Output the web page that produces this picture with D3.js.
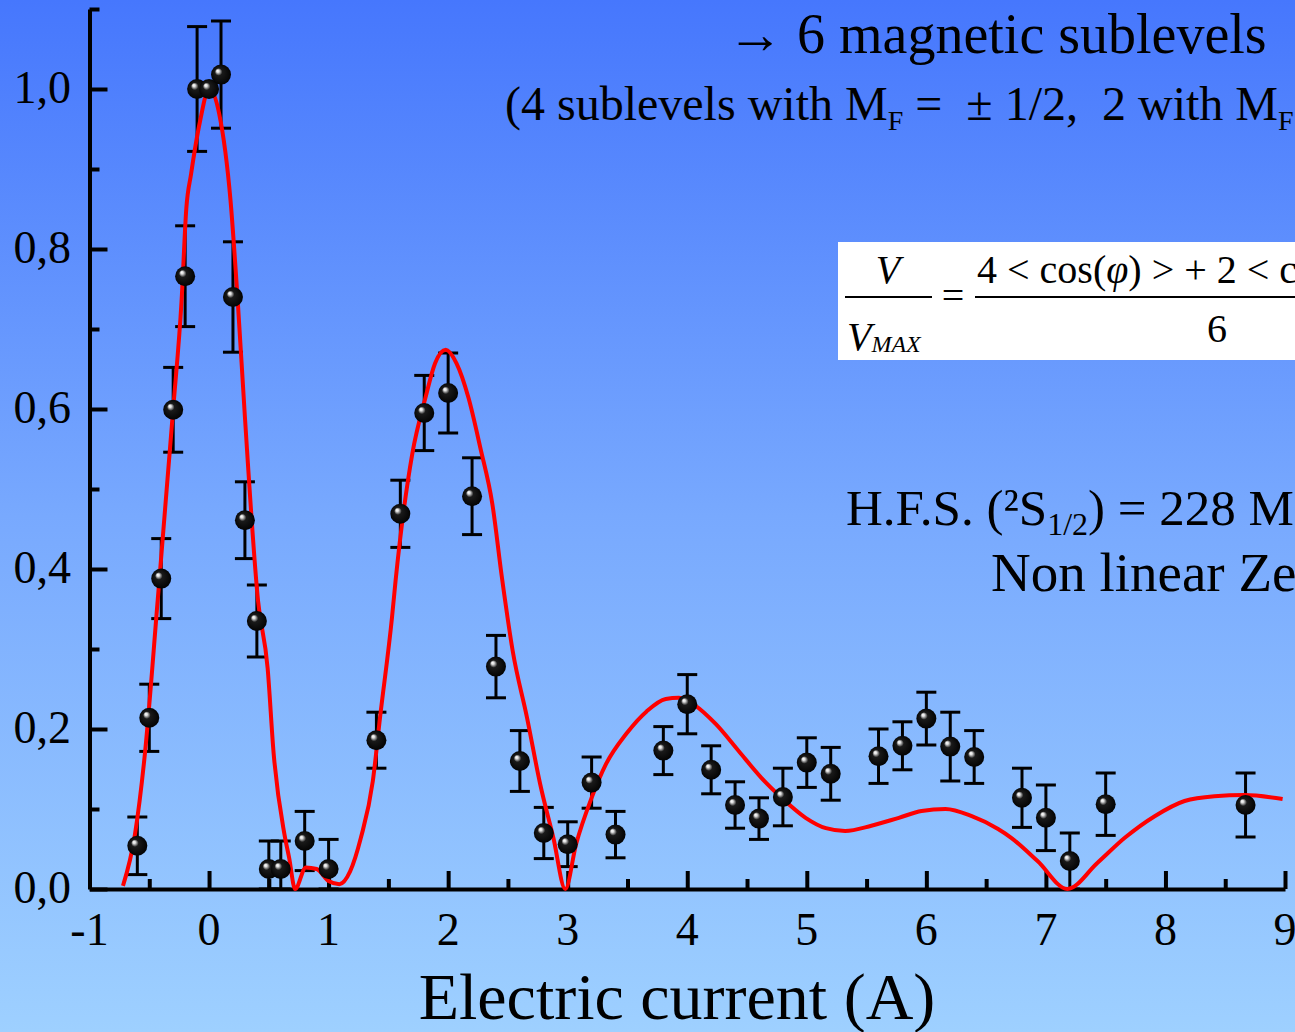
<!DOCTYPE html>
<html>
<head>
<meta charset="utf-8">
<script src="https://cdn.jsdelivr.net/npm/d3@7"></script>
<style>
  body { margin: 0; }
  svg { display: block; font-family: "Liberation Serif", "Times New Roman", serif; }
  text { white-space: pre; }
</style>
</head>
<body>
<svg id="chart" width="1295" height="1032"></svg>
<script>
// measured points (electric current, normalised visibility, error)
var current = [-0.6, -0.5, -0.4, -0.3, -0.2, -0.1, 0.0, 0.1, 0.2, 0.3, 0.4, 0.5, 0.6, 0.8, 1.0,
    1.4, 1.6, 1.8, 2.0, 2.2, 2.4, 2.6, 2.8, 3.0, 3.2, 3.4, 3.8, 4.0, 4.2, 4.4, 4.6, 4.8, 5.0, 5.2,
    5.6, 5.8, 6.0, 6.2, 6.4, 6.8, 7.0, 7.2, 7.5, 8.67];
var visibility = [0.054, 0.214, 0.388, 0.599, 0.766, 1.0, 1.0, 1.018, 0.74, 0.461, 0.335, 0.025, 0.025, 0.06, 0.025,
    0.186, 0.469, 0.595, 0.62, 0.491, 0.278, 0.16, 0.07, 0.056, 0.133, 0.068, 0.173, 0.231, 0.149, 0.105, 0.088, 0.115, 0.158, 0.144,
    0.166, 0.179, 0.213, 0.178, 0.165, 0.114, 0.089, 0.035, 0.106, 0.105];
var errors = [0.036, 0.042, 0.05, 0.053, 0.063, 0.078, 0, 0.067, 0.069, 0.048, 0.045, 0.035, 0.035, 0.037, 0.037,
    0.035, 0.042, 0.047, 0.05, 0.048, 0.039, 0.038, 0.032, 0.028, 0.032, 0.029, 0.03, 0.037, 0.03, 0.029, 0.026, 0.036, 0.031, 0.033,
    0.034, 0.03, 0.033, 0.043, 0.033, 0.037, 0.041, 0.035, 0.039, 0.04];

// theoretical curve
var fitX = [-0.72, -0.62, -0.54, -0.43, -0.3, -0.23, -0.19, -0.15, -0.075, 0, 0.085, 0.18, 0.24, 0.3, 0.41, 0.49, 0.54,
    0.63, 0.67, 0.72, 0.81, 0.9, 1.0, 1.09, 1.18, 1.27, 1.37, 1.43, 1.53, 1.56, 1.7, 1.81, 1.89, 1.98, 2.07, 2.17,
    2.27, 2.37, 2.45, 2.54, 2.66, 2.77, 2.88, 2.98, 3.07, 3.2, 3.32, 3.49, 3.66, 3.82, 3.93, 4.07, 4.24, 4.43, 4.62,
    4.79, 4.99, 5.16, 5.32, 5.54, 5.77, 5.96, 6.16, 6.38, 6.6, 6.71, 6.93, 7.18, 7.43, 7.66, 7.91, 8.16, 8.41, 8.66, 8.98];
var fitY = [0.004, 0.068, 0.164, 0.36, 0.6, 0.735, 0.851, 0.894, 0.96, 1.0, 0.969, 0.86, 0.735, 0.59, 0.36, 0.276, 0.17,
    0.069, 0.039, 0.0, 0.027, 0.025, 0.01, 0.006, 0.022, 0.064, 0.135, 0.214, 0.339, 0.385, 0.544, 0.614, 0.657, 0.674, 0.657, 0.614,
    0.551, 0.481, 0.389, 0.2975, 0.214, 0.131, 0.064, 0.0, 0.056, 0.114, 0.156, 0.194, 0.222, 0.2375, 0.239, 0.229, 0.206, 0.1725, 0.139,
    0.114, 0.089, 0.076, 0.0725, 0.079, 0.089, 0.0975, 0.1, 0.091, 0.075, 0.064, 0.035, 0.0, 0.0325, 0.064, 0.091, 0.11, 0.116, 0.1175, 0.1125];

var xMajor = [-1, 0, 1, 2, 3, 4, 5, 6, 7, 8, 9];
var xMinor = [-0.5, 0.5, 1.5, 2.5, 3.5, 4.5, 5.5, 6.5, 7.5, 8.5];
var yMajor = [0, 0.2, 0.4, 0.6, 0.8, 1.0];
var yMinor = [0.1, 0.3, 0.5, 0.7, 0.9, 1.1];

var svg = d3.select("#chart");

var x = d3.scaleLinear().domain([-1, 9]).range([89.5, 1285]);
var y = d3.scaleLinear().domain([0, 1.1]).range([889, 9]);

// background gradient
var defs = svg.append("defs");
var bg = defs.append("linearGradient").attr("id", "bg")
    .attr("x1", 0).attr("y1", 0).attr("x2", 0).attr("y2", 1);
bg.append("stop").attr("offset", "0%").attr("stop-color", "#4677fd");
bg.append("stop").attr("offset", "50%").attr("stop-color", "#78a9fe");
bg.append("stop").attr("offset", "100%").attr("stop-color", "#9ed0ff");

var ball = defs.append("radialGradient").attr("id", "ball")
    .attr("cx", "50%").attr("cy", "50%").attr("r", "55%")
    .attr("fx", "32%").attr("fy", "30%");
ball.append("stop").attr("offset", "0%").attr("stop-color", "#ffffff");
ball.append("stop").attr("offset", "12%").attr("stop-color", "#e0e0e0");
ball.append("stop").attr("offset", "34%").attr("stop-color", "#1a1a1a");
ball.append("stop").attr("offset", "100%").attr("stop-color", "#000000");

svg.append("rect").attr("width", 1295).attr("height", 1032).attr("fill", "url(#bg)");

// axes
var fmt = function (d) { return d3.format(".1f")(d).replace(".", ","); };

svg.append("g")
    .attr("transform", "translate(" + x(-1) + ",0)")
    .call(d3.axisLeft(y).tickValues(yMajor).tickSize(-18).tickSizeOuter(0).tickFormat(""))
    .call(function (g) { g.selectAll("path, line").attr("stroke", "#000").attr("stroke-width", 4); });
svg.append("g")
    .attr("transform", "translate(" + x(-1) + ",0)")
    .call(d3.axisLeft(y).tickValues(yMinor).tickSize(-10).tickSizeOuter(0).tickFormat(""))
    .call(function (g) {
        g.select(".domain").remove();
        g.selectAll("line").attr("stroke", "#000").attr("stroke-width", 4);
    });

svg.append("g")
    .attr("transform", "translate(0," + y(0) + ")")
    .call(d3.axisBottom(x).tickValues(xMajor).tickSize(-18).tickSizeOuter(0).tickFormat(""))
    .call(function (g) { g.selectAll("path, line").attr("stroke", "#000").attr("stroke-width", 4); });
svg.append("g")
    .attr("transform", "translate(0," + y(0) + ")")
    .call(d3.axisBottom(x).tickValues(xMinor).tickSize(-10).tickSizeOuter(0).tickFormat(""))
    .call(function (g) {
        g.select(".domain").remove();
        g.selectAll("line").attr("stroke", "#000").attr("stroke-width", 4);
    });

svg.append("g").selectAll("text")
    .data(yMajor)
    .enter()
    .append("text")
    .attr("x", 71)
    .attr("y", function (d) { return y(d) + 14; })
    .attr("text-anchor", "end")
    .style("font-size", "46px")
    .text(fmt);

svg.append("g").selectAll("text")
    .data(xMajor)
    .enter()
    .append("text")
    .attr("x", function (d) { return x(d); })
    .attr("y", 945)
    .attr("text-anchor", "middle")
    .style("font-size", "46px")
    .text(function (d) { return d; });

svg.append("text")
    .attr("x", 677).attr("y", 1019)
    .attr("text-anchor", "middle")
    .style("font-size", "66px")
    .text("Electric current (A)");

// error bars
var eb = svg.append("g").attr("stroke", "#000").attr("stroke-width", 3);
current.forEach(function (c, i) {
    if (!errors[i]) return;
    var cx = x(c), top = y(visibility[i] + errors[i]), bot = y(Math.max(visibility[i] - errors[i], 0));
    eb.append("line").attr("x1", cx).attr("x2", cx).attr("y1", top).attr("y2", bot);
    eb.append("line").attr("x1", cx - 10).attr("x2", cx + 10).attr("y1", top).attr("y2", top);
    eb.append("line").attr("x1", cx - 10).attr("x2", cx + 10).attr("y1", bot).attr("y2", bot);
});

// fit curve
var line = d3.line()
    .x(function (d) { return x(d[0]); })
    .y(function (d) { return y(d[1]); })
    .curve(d3.curveMonotoneX);
svg.append("path")
    .datum(d3.zip(fitX, fitY))
    .attr("d", line)
    .attr("fill", "none")
    .attr("stroke", "#ff0000")
    .attr("stroke-width", 4);

// points
svg.append("g").selectAll("circle")
    .data(d3.range(current.length))
    .enter()
    .append("circle")
    .attr("cx", function (i) { return x(current[i]); })
    .attr("cy", function (i) { return y(visibility[i]); })
    .attr("r", 10)
    .attr("fill", "url(#ball)");

// annotations
svg.append("text")
    .attr("x", 727).attr("y", 53)
    .style("font-size", "56px")
    .text("\u2192 6 magnetic sublevels");

var t2 = svg.append("text")
    .attr("x", 505).attr("y", 120)
    .style("font-size", "48px");
t2.append("tspan").text("(4 sublevels with M");
t2.append("tspan").attr("dy", 10).style("font-size", "28px").text("F");
t2.append("tspan").attr("dy", -10).text(" =  \u00b1 1/2,  2 with M");
t2.append("tspan").attr("dy", 10).style("font-size", "28px").text("F");
t2.append("tspan").attr("dy", -10).text(" = 0)");

// formula box
svg.append("rect")
    .attr("x", 838).attr("y", 242)
    .attr("width", 470).attr("height", 118)
    .attr("fill", "#fff");
var fm = svg.append("g").style("font-size", "40px");
fm.append("text").attr("x", 888).attr("y", 283).attr("text-anchor", "middle")
    .style("font-style", "italic").text("V");
fm.append("line").attr("x1", 845).attr("x2", 932).attr("y1", 297).attr("y2", 297)
    .attr("stroke", "#000").attr("stroke-width", 2);
var vm = fm.append("text").attr("x", 847).attr("y", 350).style("font-style", "italic");
vm.append("tspan").text("V");
vm.append("tspan").attr("dy", 2).style("font-size", "24px").text("MAX");
fm.append("text").attr("x", 953).attr("y", 309).attr("text-anchor", "middle").text("=");
fm.append("line").attr("x1", 975).attr("x2", 1300).attr("y1", 297).attr("y2", 297)
    .attr("stroke", "#000").attr("stroke-width", 2);
var num = fm.append("text").attr("x", 977).attr("y", 283);
num.append("tspan").text("4 < cos(");
num.append("tspan").style("font-style", "italic").text("\u03c6");
num.append("tspan").text(") > + 2 < cos(");
fm.append("text").attr("x", 1217).attr("y", 342).attr("text-anchor", "middle").text("6");

var t3 = svg.append("text")
    .attr("x", 846).attr("y", 525)
    .style("font-size", "51px");
t3.append("tspan").text("H.F.S. (\u00b2S");
t3.append("tspan").attr("dy", 10).style("font-size", "32px").text("1/2");
t3.append("tspan").attr("dy", -10).text(") = 228 MHz");

svg.append("text")
    .attr("x", 991).attr("y", 591)
    .style("font-size", "55px")
    .text("Non linear Zeeman effect");
</script>
</body>
</html>
